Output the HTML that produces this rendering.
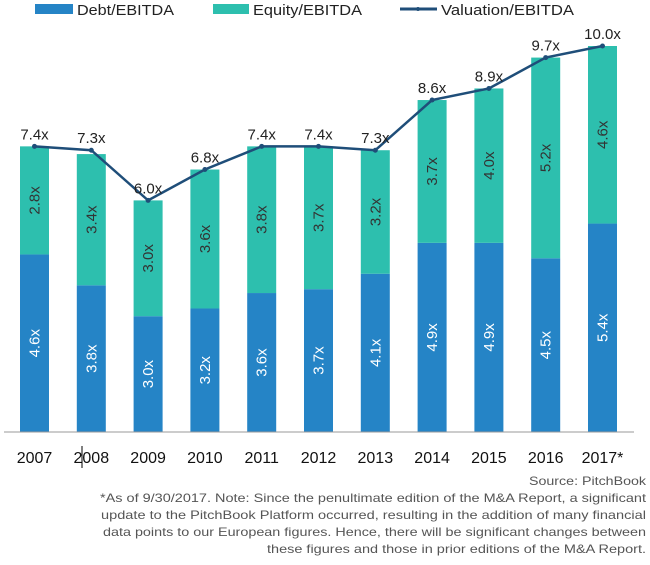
<!DOCTYPE html>
<html><head><meta charset="utf-8"><style>
body{margin:0;background:#fff;width:650px;height:565px;overflow:hidden;font-family:"Liberation Sans",sans-serif}
svg text{font-family:"Liberation Sans",sans-serif}
</style></head><body>
<svg width="650" height="565" style="position:absolute;left:0;top:0">
<g id="legend">
<rect x="35" y="4" width="38" height="10" fill="#2584c6"/>
<text x="77" y="15" font-size="15" fill="#222" textLength="97" lengthAdjust="spacingAndGlyphs">Debt/EBITDA</text>
<rect x="213" y="4" width="36" height="10" fill="#2dbfae"/>
<text x="253" y="15" font-size="15" fill="#222" textLength="109" lengthAdjust="spacingAndGlyphs">Equity/EBITDA</text>
<line x1="400" y1="9" x2="437" y2="9" stroke="#1f4e79" stroke-width="3"/>
<circle cx="418" cy="9" r="2" fill="#1f4e79"/>
<text x="441" y="15" font-size="15" fill="#222" textLength="133" lengthAdjust="spacingAndGlyphs">Valuation/EBITDA</text>
</g>
<g id="plot"></g>
<line x1="82" y1="446" x2="82" y2="468" stroke="#000" stroke-width="1"/>
<g fill="#555" font-size="12" text-anchor="end">
<text x="646" y="485" textLength="117" lengthAdjust="spacingAndGlyphs">Source: PitchBook</text>
<text x="646" y="502" textLength="546" lengthAdjust="spacingAndGlyphs">*As of 9/30/2017. Note: Since the penultimate edition of the M&amp;A Report, a significant</text>
<text x="646" y="519" textLength="545" lengthAdjust="spacingAndGlyphs">update to the PitchBook Platform occurred, resulting in the addition of many financial</text>
<text x="646" y="536" textLength="543" lengthAdjust="spacingAndGlyphs">data points to our European figures. Hence, there will be significant changes between</text>
<text x="646" y="553" textLength="379" lengthAdjust="spacingAndGlyphs">these figures and those in prior editions of the M&amp;A Report.</text>
</g>
</svg>
<script>
const categories=["2007","2008","2009","2010","2011","2012","2013","2014","2015","2016","2017*"];
const debt=[4.6,3.8,3.0,3.2,3.6,3.7,4.1,4.9,4.9,4.5,5.4];
const equity=[2.8,3.4,3.0,3.6,3.8,3.7,3.2,3.7,4.0,5.2,4.6];
const valuation=[7.4,7.3,6.0,6.8,7.4,7.4,7.3,8.6,8.9,9.7,10.0];
const NS="http://www.w3.org/2000/svg";
const g=document.getElementById('plot');
const base=432, ppu=38.6, x0=34.5, step=56.8, bw=29;
const y=v=>base-v*ppu;
const xc=i=>x0+i*step;
function mk(t,a,txt){const e=document.createElementNS(NS,t);for(const k in a)e.setAttribute(k,a[k]);if(txt!=null)e.textContent=txt;g.appendChild(e);return e;}
categories.forEach((c,i)=>{
 const x=xc(i);
 let r=mk('rect',{x:x-bw/2,y:y(debt[i]),width:bw,height:debt[i]*ppu,fill:'#2584c6'});
 
 
 r=mk('rect',{x:x-bw/2,y:y(debt[i]+equity[i]),width:bw,height:equity[i]*ppu,fill:'#2dbfae'});
 
 
 let cy=(base+y(debt[i]))/2;
 let t=mk('text',{x:x,y:cy+5,'font-size':15,fill:'#fff','text-anchor':'middle',transform:`rotate(-90 ${x} ${cy})`},debt[i].toFixed(1)+'x');
 
 
 cy=(y(debt[i])+y(debt[i]+equity[i]))/2;
 t=mk('text',{x:x,y:cy+5,'font-size':15,fill:'#333','text-anchor':'middle',transform:`rotate(-90 ${x} ${cy})`},equity[i].toFixed(1)+'x');
 
 
 t=mk('text',{x:x,y:463,'font-size':16,fill:'#111','text-anchor':'middle'},c);
 
 
});
const ax=mk('line',{x1:4,y1:base,x2:634,y2:base,stroke:'#999','stroke-width':1});


const pl=mk('polyline',{points:valuation.map((v,i)=>xc(i)+','+y(v)).join(' '),fill:'none',stroke:'#1f4e79','stroke-width':2.5});


valuation.forEach((v,i)=>{
 const c=mk('circle',{cx:xc(i),cy:y(v),r:2.5,fill:'#1f4e79'});
 
 
 const t=mk('text',{x:xc(i),y:y(v)-7,'font-size':15,fill:'#222','text-anchor':'middle'},v.toFixed(1)+'x');
 
 
});
</script>
</body></html>
